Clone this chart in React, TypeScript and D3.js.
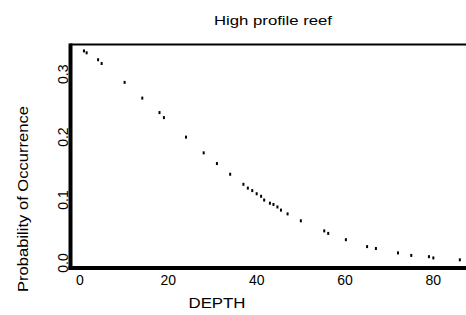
// App.tsx
import { useEffect, useRef } from 'react';
import * as d3 from 'd3';

// values
const depth = [0.9, 1.5, 4.1, 4.9, 10.1, 14.1, 18, 19, 24, 28, 31, 34, 37, 38, 39, 40, 41, 41.7, 43, 43.8, 44.7, 45.5, 47, 50, 55.3, 56.2, 60.2, 65, 67, 72, 75, 79, 80, 86];
const prob = [0.337, 0.334, 0.323, 0.317, 0.287, 0.262, 0.239, 0.231, 0.2, 0.175, 0.158, 0.141, 0.125, 0.119, 0.115, 0.11, 0.106, 0.1, 0.095, 0.093, 0.089, 0.084, 0.078, 0.067, 0.051, 0.047, 0.037, 0.026, 0.023, 0.016, 0.012, 0.01, 0.008, 0.005];
const xTicks = [0, 20, 40, 60, 80];
const yTicks = [0, 0.1, 0.2, 0.3];
const yTickLabels = ['0.0', '0.1', '0.2', '0.3'];

const App = () => {
  const ref = useRef<SVGSVGElement>(null);

  useEffect(() => {
    const svg = d3.select(ref.current);
    svg.selectAll('*').remove();
    const font = '"Liberation Sans", Arial, sans-serif';

    // scales (plot runs past the right edge of the picture)
    const x = d3.scaleLinear().domain([-2.15, 88.3]).range([70.5, 470]);
    const y = d3.scaleLinear().domain([-0.008, 0.348]).range([268, 44]);

    // title
    svg.append('text')
      .attr('x', 273).attr('y', 25)
      .attr('text-anchor', 'middle')
      .attr('font-family', font).attr('font-size', 13)
      .attr('textLength', 118).attr('lengthAdjust', 'spacingAndGlyphs')
      .text('High profile reef');

    // frame: thin top, thick left and bottom
    svg.append('line')
      .attr('x1', 70).attr('x2', 470).attr('y1', 44.5).attr('y2', 44.5)
      .attr('stroke', '#000').attr('stroke-width', 2);
    svg.append('line')
      .attr('x1', 70.5).attr('x2', 70.5).attr('y1', 43.5).attr('y2', 270)
      .attr('stroke', '#000').attr('stroke-width', 4);
    svg.append('line')
      .attr('x1', 68.5).attr('x2', 470).attr('y1', 268).attr('y2', 268)
      .attr('stroke', '#000').attr('stroke-width', 4);

    // points
    svg.append('g')
      .selectAll('rect')
      .data(depth)
      .enter()
      .append('rect')
      .attr('x', (d) => x(d) - 1)
      .attr('y', (d, i) => y(prob[i]) - 1.5)
      .attr('width', 2)
      .attr('height', 3)
      .attr('fill', '#000');

    // x tick labels
    svg.append('g')
      .selectAll('text')
      .data(xTicks)
      .enter()
      .append('text')
      .attr('x', (d) => x(d))
      .attr('y', 285)
      .attr('text-anchor', 'middle')
      .attr('font-family', font).attr('font-size', 14)
      .text((d) => d);

    // y tick labels, rotated
    svg.append('g')
      .selectAll('text')
      .data(yTicks)
      .enter()
      .append('text')
      .attr('transform', (d) => `translate(68,${y(d)}) rotate(-90)`)
      .attr('text-anchor', 'middle')
      .attr('font-family', font).attr('font-size', 14)
      .text((d, i) => yTickLabels[i]);

    // axis titles
    svg.append('text')
      .attr('x', 217).attr('y', 308)
      .attr('text-anchor', 'middle')
      .attr('font-family', font).attr('font-size', 14)
      .attr('textLength', 57).attr('lengthAdjust', 'spacingAndGlyphs')
      .text('DEPTH');

    svg.append('text')
      .attr('transform', 'translate(28,199) rotate(-90)')
      .attr('text-anchor', 'middle')
      .attr('font-family', font).attr('font-size', 14)
      .attr('textLength', 186).attr('lengthAdjust', 'spacingAndGlyphs')
      .text('Probability of Occurrence');
  }, []);

  return (
    <svg
      ref={ref}
      width={466}
      height={315}
      style={{ position: 'fixed', left: 0, top: 0, background: '#fff' }}
    ></svg>
  );
};

export default App;
